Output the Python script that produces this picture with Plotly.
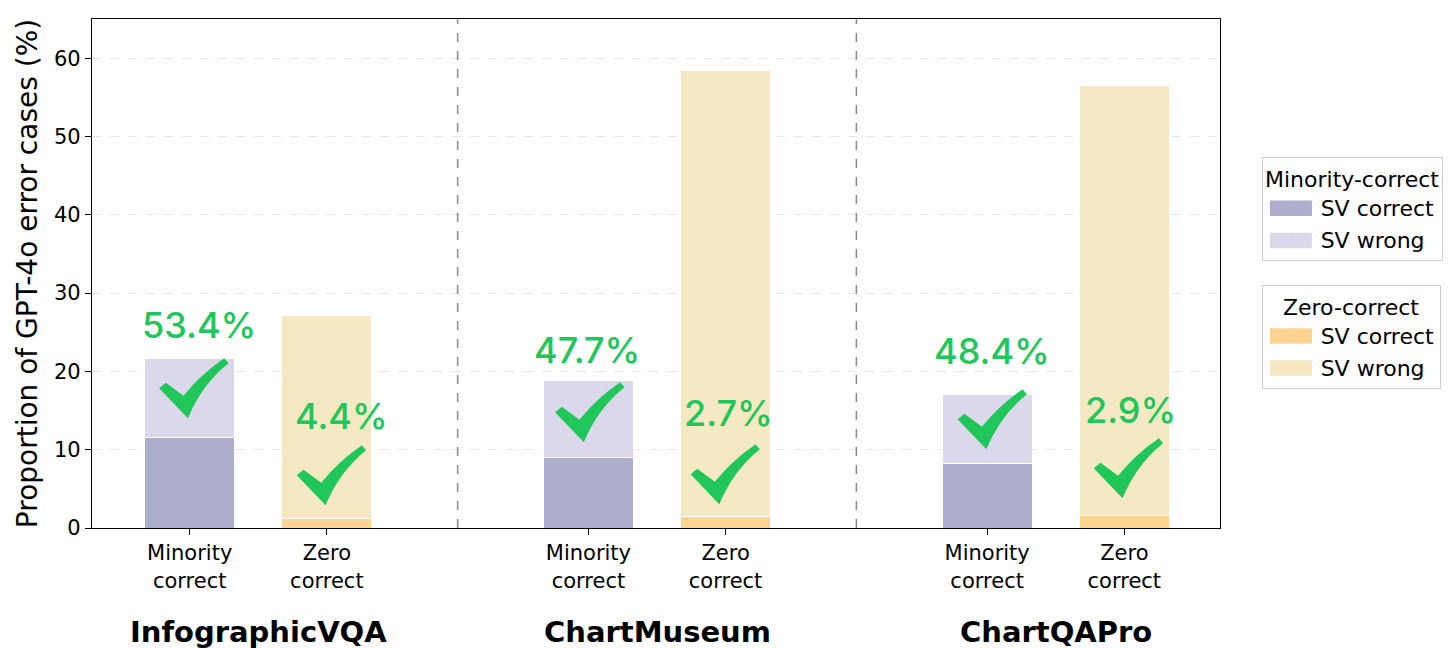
import plotly.graph_objects as go

datasets = ["InfographicVQA", "ChartMuseum", "ChartQAPro"]
bar_labels = ["Minority<br>correct", "Zero<br>correct"]

minority_sv_correct = [11.6, 9.0, 8.3]
minority_total = [21.6, 18.9, 17.1]
zero_sv_correct = [1.15, 1.5, 1.6]
zero_total = [27.1, 58.4, 56.5]

minority_pct = ["53.4%", "47.7%", "48.4%"]
zero_pct = ["4.4%", "2.7%", "2.9%"]

minority_sv_wrong = [t - c for t, c in zip(minority_total, minority_sv_correct)]
zero_sv_wrong = [t - c for t, c in zip(zero_total, zero_sv_correct)]

# ---------------- layout / style ----------------
OFF = 0.172
W = 0.226
groups = list(range(len(datasets)))
xm = [g - OFF for g in groups]
xz = [g + OFF for g in groups]

C_MC = "#adadcd"
C_MW = "#dad8ea"
C_ZC = "#fdd491"
C_ZW = "#f5e9c4"
GREEN = "#20c65a"
FONT = "DejaVu Sans"
PFONT = dict(family="Inter", size=36, color=GREEN, weight=500)

# annotation placement (label text y, pixel x shifts; check centre y, pixel x shifts)
m_lab_y, m_lab_dx = [25.93, 22.73, 22.61], [9, -1, 5]
z_lab_y, z_lab_dx = [14.33, 14.69, 15.13], [15, 2.5, 6.3]
m_chk_y, m_chk_dx = [17.88, 14.81, 13.92], [4, 1.2, 5]
z_chk_y, z_chk_dx = [6.77, 6.90, 7.66], [4.5, -0.5, 4]


def check_path(dx):
    pts = [("M", [(-34.5, -0.3)]), ("L", [(-27.8, 5.3)]), ("L", [(-10.2, -7.7)]),
           ("Q", [(7.4, 13.8), (30.5, 29.7)]), ("L", [(34.8, 24.7)]),
           ("Q", [(8.2, 3.5), (-5.8, -30.3)])]
    s = ""
    for cmd, ps in pts:
        s += cmd + " " + " ".join("%.2f,%.2f" % (px + dx, py) for px, py in ps) + " "
    return s + "Z"


fig = go.Figure()
line = dict(color="white", width=1)
fig.add_trace(go.Bar(x=xm, y=minority_sv_correct, width=W, marker=dict(color=C_MC, line=line), showlegend=False))
fig.add_trace(go.Bar(x=xm, y=minority_sv_wrong, width=W, marker=dict(color=C_MW, line=line), showlegend=False))
fig.add_trace(go.Bar(x=xz, y=zero_sv_correct, width=W, marker=dict(color=C_ZC, line=line), showlegend=False))
fig.add_trace(go.Bar(x=xz, y=zero_sv_wrong, width=W, marker=dict(color=C_ZW, line=line), showlegend=False))

# legend entries (symbols drawn as wide patches below)
for name, lg in [("SV correct", "legend"), ("SV wrong", "legend"),
                 ("SV correct", "legend2"), ("SV wrong", "legend2")]:
    fig.add_trace(go.Scatter(x=[None], y=[None], mode="markers", name=name, legend=lg,
                             marker=dict(size=1, opacity=0), hoverinfo="skip"))

annotations = []
shapes = []
for g in groups:
    annotations.append(dict(x=xm[g], y=m_lab_y[g], xshift=m_lab_dx[g], text=minority_pct[g],
                            showarrow=False, font=PFONT))
    annotations.append(dict(x=xz[g], y=z_lab_y[g], xshift=z_lab_dx[g], text=zero_pct[g],
                            showarrow=False, font=PFONT))
    shapes.append(dict(type="path", xref="x", yref="y", xsizemode="pixel", ysizemode="pixel",
                       xanchor=xm[g], yanchor=m_chk_y[g], path=check_path(m_chk_dx[g]),
                       fillcolor=GREEN, line=dict(width=0), layer="above"))
    shapes.append(dict(type="path", xref="x", yref="y", xsizemode="pixel", ysizemode="pixel",
                       xanchor=xz[g], yanchor=z_chk_y[g], path=check_path(z_chk_dx[g]),
                       fillcolor=GREEN, line=dict(width=0), layer="above"))
    annotations.append(dict(x=g, y=-0.204, xref="x", yref="paper", text="<b>%s</b>" % datasets[g],
                            showarrow=False, yanchor="middle",
                            font=dict(family=FONT, size=29, color="black")))

for g in groups[:-1]:
    shapes.append(dict(type="line", xref="x", yref="paper", x0=g + 0.5, x1=g + 0.5, y0=0, y1=1,
                       line=dict(color="#888888", width=1.5, dash="dash")))

# legend patches (paper coords)
patch_x0, patch_x1 = 1.0443, 1.0815
patch_rows = [(0.6281, C_MC), (0.5648, C_MW), (0.3772, C_ZC), (0.3143, C_ZW)]
for yc, col in patch_rows:
    shapes.append(dict(type="rect", xref="paper", yref="paper", x0=patch_x0, x1=patch_x1,
                       y0=yc - 0.0153, y1=yc + 0.0153, fillcolor=col, line=dict(width=0)))

tickvals = []
ticktext = []
for g in groups:
    tickvals += [xm[g], xz[g]]
    ticktext += bar_labels

fig.update_layout(
    barmode="stack",
    width=1445, height=640,
    margin=dict(l=84, r=232, t=11, b=120),
    plot_bgcolor="white", paper_bgcolor="white",
    font=dict(family=FONT, size=22, color="black"),
    annotations=annotations,
    shapes=shapes,
    xaxis=dict(range=[-0.417, 2.412], tickvals=tickvals, ticktext=ticktext,
               showline=True, linecolor="black", linewidth=1.2, mirror=True,
               ticks="outside", ticklen=6, tickcolor="black", showgrid=False,
               tickfont=dict(size=21)),
    yaxis=dict(range=[0, 65], dtick=10, showline=True, linecolor="black", linewidth=1.2,
               mirror=True, ticks="outside", ticklen=6, tickcolor="black",
               showgrid=True, gridcolor="#e6e6e6", griddash="dash", gridwidth=1,
               zeroline=False, tickfont=dict(size=21),
               title=dict(text="Proportion of GPT-4o error cases (%)", font=dict(size=28), standoff=8)),
    legend=dict(x=1.036, y=0.729, xanchor="left", yanchor="top",
                bordercolor="#cccccc", borderwidth=1, bgcolor="rgba(0,0,0,0)", itemwidth=48,
                title=dict(text="Minority-correct", side="top center", font=dict(size=22)),
                font=dict(size=22), traceorder="normal"),
    legend2=dict(x=1.036, y=0.477, xanchor="left", yanchor="top",
                 bordercolor="#cccccc", borderwidth=1, bgcolor="rgba(0,0,0,0)", itemwidth=48,
                 title=dict(text="Zero-correct", side="top center", font=dict(size=22)),
                 font=dict(size=22), traceorder="normal"),
)

fig.write_html("out.html")
